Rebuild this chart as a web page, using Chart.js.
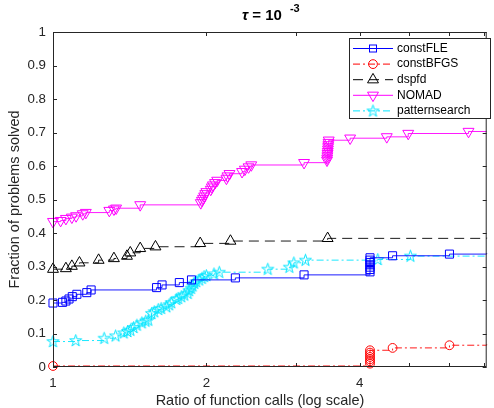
<!DOCTYPE html>
<html lang="en">
<head>
<meta charset="UTF-8">
<title>Performance profile, tau = 1e-3</title>
<script src="https://cdn.jsdelivr.net/npm/chart.js"></script>
<style>
  html, body { margin: 0; padding: 0; background: #fff; }
  #chart { display: block; }
</style>
</head>
<body>
<canvas id="chart" width="494" height="408"></canvas>
<script>
// ---- data ----
const xTickValues = [1, 2, 4];
const xMinorTicks = [3, 5, 6, 7];
const yTickValues = [0, 0.1, 0.2, 0.3, 0.4, 0.5, 0.6, 0.7, 0.8, 0.9, 1];
const xMax = 7.1;

const seriesNames = ['constFLE', 'constBFGS', 'dspfd', 'NOMAD', 'patternsearch'];

const fleRatio = [1.000, 1.044, 1.060, 1.075, 1.091, 1.114, 1.165, 1.188, 1.597, 1.637, 1.770, 1.870, 2.280, 3.110,
                  4.19, 4.19, 4.19, 4.19, 4.19, 4.19, 4.19, 4.64, 6.00, 7.1];
const fleFrac  = [0.191, 0.193, 0.197, 0.203, 0.210, 0.217, 0.222, 0.230, 0.237, 0.245, 0.252, 0.260, 0.266, 0.275,
                  0.284, 0.291, 0.298, 0.305, 0.312, 0.319, 0.326, 0.332, 0.337, 0.340];

const bfgsRatio = [1.000, 4.19, 4.19, 4.19, 4.19, 4.19, 4.19, 4.19, 4.64, 6.00, 7.1];
const bfgsFrac  = [0.003, 0.010, 0.017, 0.023, 0.030, 0.037, 0.043, 0.050, 0.057, 0.065, 0.068];

const dspRatio = [1.000, 1.060, 1.089, 1.127, 1.229, 1.317, 1.397, 1.418, 1.483, 1.589, 1.945, 2.230, 3.460, 7.1];
const dspFrac  = [0.292, 0.294, 0.301, 0.311, 0.319, 0.324, 0.331, 0.341, 0.354, 0.359, 0.369, 0.376, 0.384, 0.386];

const nomadRatio = [1.000, 1.035, 1.060, 1.089, 1.110, 1.144, 1.160, 1.290, 1.317, 1.330, 1.483,
                    1.950, 1.960, 1.970, 1.980, 1.990, 2.000, 2.040, 2.050, 2.060, 2.080, 2.100, 2.190, 2.200, 2.220, 2.350, 2.380, 2.420, 2.450,
                    3.110, 3.450, 3.453, 3.456, 3.459, 3.462, 3.465, 3.468, 3.471, 3.474, 3.477,
                    3.830, 4.520, 4.980, 6.540, 7.1];
const nomadFrac  = [0.434, 0.437, 0.443, 0.447, 0.451, 0.457, 0.461, 0.467, 0.471, 0.474, 0.484,
                    0.490, 0.497, 0.503, 0.510, 0.517, 0.523, 0.530, 0.537, 0.543, 0.550, 0.557, 0.563, 0.570, 0.577, 0.583, 0.590, 0.597, 0.603,
                    0.610, 0.617, 0.623, 0.630, 0.637, 0.643, 0.650, 0.657, 0.663, 0.670, 0.677,
                    0.683, 0.687, 0.697, 0.703, 0.703];

const psRatio = [1.000, 1.108, 1.260, 1.327, 1.377, 1.400, 1.419, 1.440, 1.461, 1.494, 1.520, 1.538, 1.561, 1.580,
                 1.609, 1.630, 1.669, 1.690, 1.706, 1.745, 1.760, 1.785, 1.810, 1.839, 1.850, 1.866, 1.880, 1.894,
                 1.910, 1.936, 1.960, 1.979, 2.000, 2.070, 2.120, 2.640, 2.910, 2.970, 3.130, 4.340, 5.030, 7.1];
const psFrac  = [0.076, 0.079, 0.086, 0.093, 0.102, 0.106, 0.110, 0.118, 0.125, 0.132, 0.137, 0.140, 0.160, 0.165,
                 0.172, 0.175, 0.180, 0.186, 0.192, 0.202, 0.205, 0.210, 0.215, 0.220, 0.228, 0.235, 0.242, 0.250,
                 0.255, 0.260, 0.265, 0.270, 0.273, 0.278, 0.283, 0.292, 0.298, 0.311, 0.319, 0.321, 0.331, 0.334];

// ---- helpers ----
const axisColor = '#262626';
const fontFamily = '"Liberation Sans", Arial, Helvetica, sans-serif';

function toPoints(xs, ys) {
    return xs.map((x, i) => ({ x: x, y: ys[i] }));
}

// pentagram marker (matlab 'p') as a small canvas
function makeStar(color) {
    const c = document.createElement('canvas');
    c.width = 15; c.height = 15;
    const g = c.getContext('2d');
    const R = 6.3, r = R * 0.382;
    g.beginPath();
    for (let k = 0; k < 10; k++) {
        const a = -Math.PI / 2 + k * Math.PI / 5;
        const rr = k % 2 === 0 ? R : r;
        const px = 7.5 + rr * Math.cos(a), py = 7.8 + rr * Math.sin(a);
        if (k === 0) g.moveTo(px, py); else g.lineTo(px, py);
    }
    g.closePath();
    g.strokeStyle = color;
    g.lineWidth = 1;
    g.stroke();
    return c;
}
const starImg = makeStar('#00e5ff');

// hide the marker on the closing point that only extends the line to the edge
function markerSize(size) {
    return ctx => ctx.dataIndex === ctx.dataset.data.length - 1 ? 0 : size;
}

function series(label, xs, ys, color, dash, style, size, rotation) {
    return {
        label: label,
        data: toPoints(xs, ys),
        borderColor: color,
        borderWidth: 0.9,
        borderDash: dash,
        stepped: 'before',
        fill: false,
        pointStyle: style,
        pointRotation: rotation || 0,
        pointRadius: markerSize(size),
        pointBorderColor: color,
        pointBackgroundColor: 'rgba(0,0,0,0)',
        pointBorderWidth: 1,
        clip: 8
    };
}

const datasets = [
    series(seriesNames[0], fleRatio, fleFrac, '#0000ff', [], 'rect', 5.7),
    series(seriesNames[1], bfgsRatio, bfgsFrac, '#ff0000', [7, 3, 2, 3], 'circle', 4.4),
    series(seriesNames[2], dspRatio, dspFrac, '#000000', [10, 6], 'triangle', 6.3),
    series(seriesNames[3], nomadRatio, nomadFrac, '#ff00ff', [], 'triangle', 6.3, 180),
    series(seriesNames[4], psRatio, psFrac, '#00e5ff', [7, 3, 2, 3], starImg, 5)
];

// marker drawing for the legend samples
function drawMarker(g, ds, x, y) {
    g.save();
    g.strokeStyle = ds.pointBorderColor;
    g.lineWidth = 1;
    g.setLineDash([]);
    const style = ds.pointStyle;
    if (style === 'rect') {
        g.strokeRect(x - 3.5, y - 3.5, 7, 7);
    } else if (style === 'circle') {
        g.beginPath(); g.arc(x, y, 4.4, 0, Math.PI * 2); g.stroke();
    } else if (style === 'triangle') {
        const r = 6.3, rot = (ds.pointRotation || 0) * Math.PI / 180;
        g.beginPath();
        for (let k = 0; k < 3; k++) {
            const a = rot + k * 2 * Math.PI / 3;
            const px = x + Math.sin(a) * r, py = y - Math.cos(a) * r;
            if (k === 0) g.moveTo(px, py); else g.lineTo(px, py);
        }
        g.closePath(); g.stroke();
    } else {
        g.drawImage(style, x - style.width / 2, y - style.height / 2);
    }
    g.restore();
}

// axes box, inward ticks, titles and legend (matlab look)
const matlabFrame = {
    id: 'matlabFrame',
    afterDatasetsDraw(chart) {
        const g = chart.ctx;
        const { left, right, top, bottom } = chart.chartArea;
        const xs = chart.scales.x, ys = chart.scales.y;
        g.save();
        g.strokeStyle = axisColor;
        g.lineWidth = 1;
        g.strokeRect(left + 0.5, top + 0.5, right - left - 1, bottom - top - 1);
        g.beginPath();
        xTickValues.concat(xMinorTicks).forEach(v => {
            const px = Math.round(xs.getPixelForValue(v)) + 0.5;
            g.moveTo(px, bottom); g.lineTo(px, bottom - 4);
            g.moveTo(px, top); g.lineTo(px, top + 4);
        });
        yTickValues.forEach(v => {
            const py = Math.round(ys.getPixelForValue(v)) + 0.5;
            g.moveTo(left, py); g.lineTo(left + 4, py);
            g.moveTo(right, py); g.lineTo(right - 4, py);
        });
        g.stroke();
        g.restore();
    },
    afterDraw(chart) {
        const g = chart.ctx;
        const { left, right, top, bottom } = chart.chartArea;
        g.save();

        // title: tau = 10^-3
        g.fillStyle = '#000';
        g.textBaseline = 'alphabetic';
        const f1 = 'bold italic 15px ' + fontFamily;
        const f2 = 'bold 15px ' + fontFamily;
        const f3 = 'bold 11px ' + fontFamily;
        g.font = f1; const w1 = g.measureText('\u03C4').width;
        g.font = f2; const w2 = g.measureText(' = 10').width;
        g.font = f3; const w3 = g.measureText('-3').width;
        const gap = 8;
        let tx = (left + right) / 2 - (w1 + w2 + gap + w3) / 2 + 1;
        g.font = f1; g.fillText('\u03C4', tx, 20); tx += w1;
        g.font = f2; g.fillText(' = 10', tx, 20); tx += w2 + gap;
        g.font = f3; g.fillText('-3', tx, 12);

        // axis titles
        g.fillStyle = axisColor;
        g.font = '14.5px ' + fontFamily;
        g.textAlign = 'center';
        g.textBaseline = 'middle';
        g.fillText('Ratio of function calls (log scale)', 260, 401);
        g.translate(15, (top + bottom) / 2);
        g.rotate(-Math.PI / 2);
        g.fillText('Fraction of problems solved', 0, 0);
        g.setTransform(1, 0, 0, 1, 0, 0);

        // legend box
        const bx = 349.5, by = 38.5, bw = 141, bh = 80;
        g.fillStyle = '#fff';
        g.fillRect(bx, by, bw, bh);
        g.strokeStyle = axisColor;
        g.lineWidth = 1;
        g.strokeRect(bx, by, bw, bh);
        g.font = '12px ' + fontFamily;
        g.textAlign = 'left';
        g.textBaseline = 'middle';
        chart.data.datasets.forEach((ds, i) => {
            const cy = 48.5 + i * 15.6;
            g.save();
            g.strokeStyle = ds.borderColor;
            g.lineWidth = 1;
            g.setLineDash(ds.borderDash);
            g.beginPath(); g.moveTo(353, cy); g.lineTo(393, cy); g.stroke();
            g.restore();
            drawMarker(g, ds, 373, cy);
            g.fillStyle = '#000';
            g.fillText(ds.label, 397, cy);
        });
        g.restore();
    }
};

const tickFont = { family: fontFamily, size: 13.3 };

new Chart(document.getElementById('chart').getContext('2d'), {
    type: 'line',
    data: { datasets: datasets },
    options: {
        responsive: false,
        animation: false,
        events: [],
        layout: { padding: { top: 32, right: 1, left: 0, bottom: 0 } },
        scales: {
            x: {
                type: 'logarithmic',
                min: 1,
                max: xMax,
                afterBuildTicks: scale => { scale.ticks = xTickValues.map(v => ({ value: v })); },
                afterFit: scale => { scale.height = 41; },
                ticks: {
                    callback: v => String(v),
                    autoSkip: false,
                    maxRotation: 0,
                    padding: 8,
                    color: axisColor,
                    font: tickFont
                },
                grid: { display: false, drawTicks: false },
                border: { display: false }
            },
            y: {
                min: 0,
                max: 1,
                afterBuildTicks: scale => { scale.ticks = yTickValues.map(v => ({ value: v })); },
                afterFit: scale => { scale.width = 53; },
                ticks: {
                    callback: v => String(+v.toFixed(1)),
                    padding: 7,
                    color: axisColor,
                    font: tickFont
                },
                grid: { display: false, drawTicks: false },
                border: { display: false }
            }
        },
        plugins: {
            legend: { display: false },
            title: { display: false },
            tooltip: { enabled: false }
        }
    },
    plugins: [matlabFrame]
});
</script>
</body>
</html>
